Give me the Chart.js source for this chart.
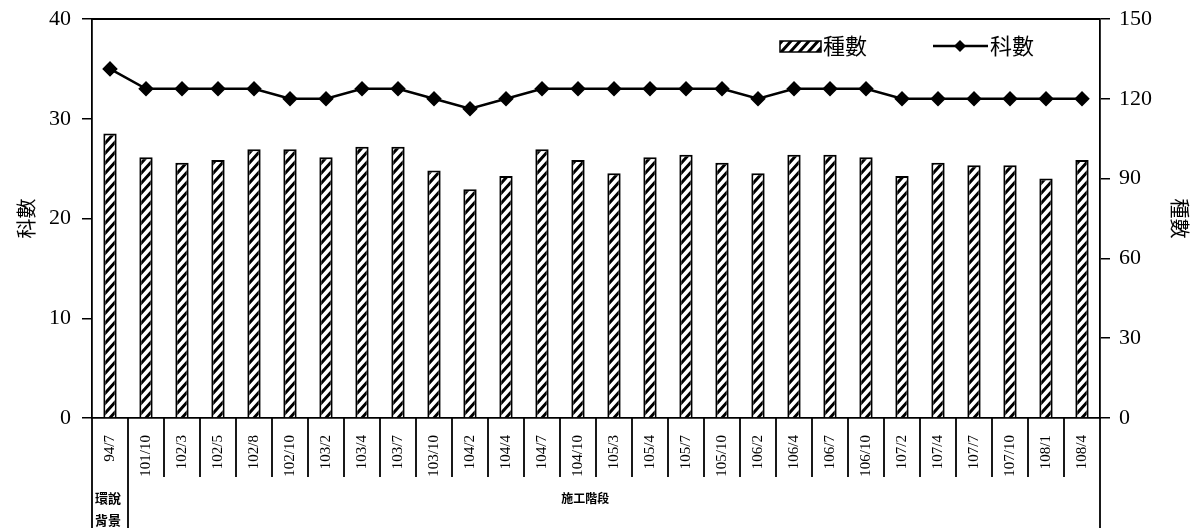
<!DOCTYPE html>
<html><head><meta charset="utf-8">
<script src="https://cdn.jsdelivr.net/npm/chart.js@4.4.0/dist/chart.umd.min.js"></script>
<style>html,body{margin:0;padding:0;background:#fff;overflow:hidden}</style>
</head><body>
<canvas id="c" width="1195" height="528"></canvas>
<script>
const categories = ['94/7','101/10','102/3','102/5','102/8','102/10','103/2','103/4','103/7','103/10','104/2','104/4','104/7','104/10','105/3','105/4','105/7','105/10','106/2','106/4','106/7','106/10','107/2','107/4','107/7','107/10','108/1','108/4'];
const speciesCounts = [107,98,96,97,101,101,98,102,102,93,86,91,101,97,92,98,99,96,92,99,99,98,91,96,95,95,90,97];
const familyCounts = [35,33,33,33,33,32,32,33,33,32,31,32,33,33,33,33,33,33,32,33,33,33,32,32,32,32,32,32];
const groupLabels = [['環說','背景'], ['施工階段']];
const groupSpans = [1, 27];
const seriesNames = ['種數', '科數'];

const canvas = document.getElementById('c');
const ctx = canvas.getContext('2d');

function makeHatch() {
  const w = 9, h = 10;
  const t = document.createElement('canvas');
  t.width = w; t.height = h;
  const g = t.getContext('2d');
  g.fillStyle = '#fff'; g.fillRect(0, 0, w, h);
  g.strokeStyle = '#000'; g.lineWidth = 3;
  g.beginPath();
  for (let k = -1; k <= 1; k++) {
    g.moveTo(k * w - 1, h + 1.1); g.lineTo(k * w + w + 1, -1.1);
  }
  g.stroke();
  return ctx.createPattern(t, 'repeat');
}
const hatch = makeHatch();

const serif = "'Liberation Serif', 'DejaVu Serif', serif";
const cjk = "'Noto Sans CJK TC', 'Noto Sans CJK SC', sans-serif";

const decor = {
  id: 'decor',
  afterDraw(chart) {
    const c = chart.ctx, a = chart.chartArea, x = chart.scales.x;
    const H = chart.height;
    c.save();
    c.strokeStyle = '#000';
    c.lineWidth = 1.8;
    c.beginPath(); c.moveTo(a.left, a.top); c.lineTo(a.right, a.top); c.stroke();
    const n = categories.length;
    const rowBottom = a.bottom + 59;
    const groupEnds = []; let acc = 0;
    groupSpans.forEach(s => { acc += s; groupEnds.push(acc); });
    for (let i = 1; i < n; i++) {
      const bx = (x.getPixelForValue(i - 1) + x.getPixelForValue(i)) / 2;
      const full = groupEnds.includes(i);
      c.beginPath(); c.moveTo(bx, a.bottom); c.lineTo(bx, full ? H : rowBottom); c.stroke();
    }
    c.beginPath(); c.moveTo(a.left, a.bottom); c.lineTo(a.left, H); c.stroke();
    c.beginPath(); c.moveTo(a.right, a.bottom); c.lineTo(a.right, H); c.stroke();
    c.fillStyle = '#000';
    c.textAlign = 'center'; c.textBaseline = 'middle';
    c.font = 'bold 13px ' + cjk;
    const g0 = x.getPixelForValue(0);
    groupLabels[0].forEach((t, k) => c.fillText(t, g0 - 2, rowBottom + 21 + k * 22));
    c.font = 'bold 12px ' + cjk;
    const g1 = x.getPixelForValue(13.2);
    c.fillText(groupLabels[1][0], g1, rowBottom + 21);
    // legend
    const ly = 46;
    c.fillStyle = hatch;
    c.fillRect(780, ly - 5, 41, 11);
    c.lineWidth = 1.5;
    c.strokeRect(780, ly - 5, 41, 11);
    c.fillStyle = '#000';
    c.textAlign = 'left';
    c.font = '22px ' + cjk;
    c.fillText(seriesNames[0], 823, ly);
    c.lineWidth = 2.5;
    c.beginPath(); c.moveTo(933, ly); c.lineTo(988, ly); c.stroke();
    c.beginPath(); c.moveTo(960, ly - 6); c.lineTo(966, ly); c.lineTo(960, ly + 6); c.lineTo(954, ly); c.closePath(); c.fill();
    c.fillText(seriesNames[1], 990, ly);
    c.restore();
  }
};

new Chart(ctx, {
  data: {
    labels: categories,
    datasets: [
      {
        type: 'line', label: seriesNames[1], data: familyCounts, yAxisID: 'yL', order: 0,
        borderColor: '#000', backgroundColor: '#000', borderWidth: 2.5,
        pointStyle: 'rectRot', pointRadius: 6, pointBackgroundColor: '#000', pointBorderColor: '#000',
        tension: 0
      },
      {
        type: 'bar', label: seriesNames[0], data: speciesCounts, yAxisID: 'yR', order: 1,
        backgroundColor: hatch, borderColor: '#000', borderWidth: 2,
        categoryPercentage: 1, barPercentage: 0.37
      }
    ]
  },
  options: {
    responsive: false, animation: false,
    layout: { padding: { top: 19, left: 0, right: 0, bottom: 0 } },
    plugins: { legend: { display: false }, tooltip: { enabled: false } },
    scales: {
      x: {
        type: 'category', offset: true,
        grid: { display: false },
        border: { display: true, color: '#000', width: 1.8 },
        ticks: { autoSkip: false, minRotation: 90, maxRotation: 90, padding: 9, color: '#000',
                 font: { family: serif, size: 15 } },
        afterFit(s) { s.height = 110; s.paddingLeft = 0; s.paddingRight = 0; }
      },
      yL: {
        position: 'left', min: 0, max: 40,
        ticks: { stepSize: 10, padding: 11, color: '#000', font: { family: serif, size: 22 } },
        grid: { drawOnChartArea: false, drawTicks: true, tickLength: 10, color: '#000', lineWidth: 1.5 },
        border: { display: true, color: '#000', width: 1.8 },
        title: { display: true, text: '科數', color: '#000', font: { family: cjk, size: 20 }, padding: { top: 14, bottom: 0 } },
        afterFit(s) { s.width = 92; s.paddingTop = 0; s.paddingBottom = 0; }
      },
      yR: {
        position: 'right', min: 0, max: 150,
        ticks: { stepSize: 30, padding: 9, color: '#000', font: { family: serif, size: 22 } },
        grid: { drawOnChartArea: false, drawTicks: true, tickLength: 10, color: '#000', lineWidth: 1.5 },
        border: { display: true, color: '#000', width: 1.8 },
        title: { display: true, text: '種數', color: '#000', font: { family: cjk, size: 20 }, padding: { top: 3, bottom: 0 } },
        afterFit(s) { s.width = 95; s.paddingTop = 0; s.paddingBottom = 0; }
      }
    }
  },
  plugins: [decor]
});
</script>
</body></html>
